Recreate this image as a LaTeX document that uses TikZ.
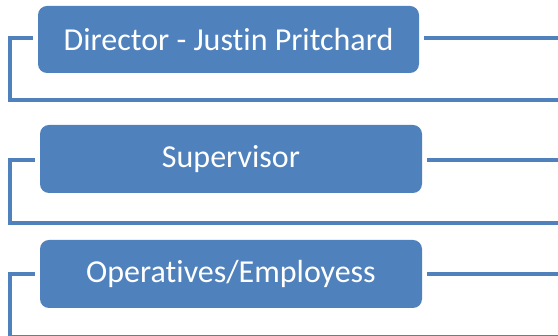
\documentclass[tikz,border=0pt]{standalone}
\usepackage{fontspec}
\setmainfont[Ligatures=NoCommon,RawFeature=-liga]{Carlito}
\definecolor{accent}{HTML}{4F81BD}
\begin{document}
\begin{tikzpicture}[x=1pt,y=1pt,
  box/.style={draw=none,fill=accent,rounded corners=9pt,text=white,
    minimum width=382pt,minimum height=68pt,inner sep=0pt,
    font=\fontsize{32}{38}\selectfont},
  conn/.style={draw=accent,line width=4.5pt}]
\useasboundingbox (0,0) rectangle (558,336);
\node[box,minimum width=381pt,minimum height=67pt] (b1) at (228.5,296.5) {Director - Justin Pritchard};
\node[box] (b2) at (231,177) {Supervisor};
\node[box] (b3) at (231,62) {Operatives/Employess};
% bracket corners and free ends
\coordinate (c1) at (10,236);
\coordinate (e1) at (560,236);
\coordinate (r1) at (560,298);
\coordinate (c2) at (10,113);
\coordinate (e2) at (560,113);
\coordinate (r2) at (560,176);
\coordinate (c3) at (10,-1.5);
\coordinate (e3) at (560,-1.5);
\coordinate (r3) at (560,62);
\draw[conn] ([xshift=-5pt,yshift=1.5pt]b1.west) -| (c1) -- (e1);
\draw[conn] ([xshift=5pt,yshift=1.5pt]b1.east) -- (r1);
\draw[conn] ([xshift=-5pt,yshift=-1pt]b2.west) -| (c2) -- (e2);
\draw[conn] ([xshift=5pt,yshift=-1pt]b2.east) -- (r2);
\draw[conn] ([xshift=-5pt]b3.west) -| (c3) -- (e3);
\draw[conn] ([xshift=5pt]b3.east) -- (r3);
\end{tikzpicture}
\end{document}
